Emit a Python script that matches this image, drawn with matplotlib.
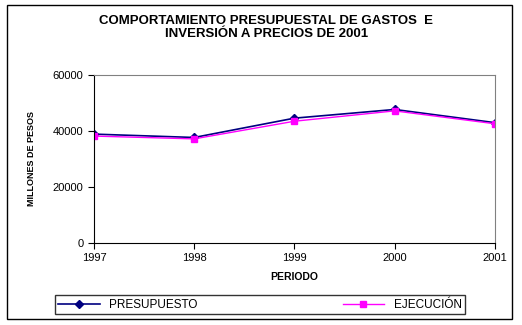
import matplotlib.pyplot as plt
from matplotlib.patches import Rectangle

plt.rcParams['font.family'] = ['Liberation Sans', 'DejaVu Sans']

years = [1997, 1998, 1999, 2000, 2001]
presupuesto = [38800, 37600, 44500, 47600, 42900]
ejecucion = [38100, 37100, 43400, 47100, 42500]

fig = plt.figure(figsize=(5.22, 3.25), dpi=100)
ax = fig.add_axes([0.180, 0.253, 0.768, 0.517])

ax.plot(years, presupuesto, color='#000080', marker='D', markersize=4, lw=1.2, label='PRESUPUESTO')
ax.plot(years, ejecucion, color='#ff00ff', marker='s', markersize=5, lw=1.0, label='EJECUCIÓN')

ax.set_xlim(1997, 2001)
ax.set_ylim(0, 60000)
ax.set_xticks(years)
ax.set_yticks([0, 20000, 40000, 60000])
ax.tick_params(labelsize=8, length=4, direction='out')
for s in ['top', 'right']:
    ax.spines[s].set_color('#808080')

ax.set_xlabel('PERIODO', fontsize=7.5, fontweight='bold', labelpad=6)
ax.set_ylabel('MILLONES DE PESOS', fontsize=6.5, fontweight='bold', labelpad=12)

fig.text(0.51, 0.955, 'COMPORTAMIENTO PRESUPUESTAL DE GASTOS  E\nINVERSIÓN A PRECIOS DE 2001',
         ha='center', va='top', fontsize=9.5, fontweight='bold', linespacing=1.2)

leg = fig.legend(loc='center', bbox_to_anchor=(0.498, 0.062), ncol=2, fontsize=8.5,
                 frameon=True, fancybox=False, edgecolor='black', columnspacing=12.3,
                 handlelength=3.5, borderpad=0.3, borderaxespad=0)
leg.get_frame().set_linewidth(1.0)

fig.patches.append(Rectangle((0.013, 0.017), 0.968, 0.968, transform=fig.transFigure,
                             fill=False, edgecolor='black', lw=1.0))

fig.savefig('out.png', dpi=100)
